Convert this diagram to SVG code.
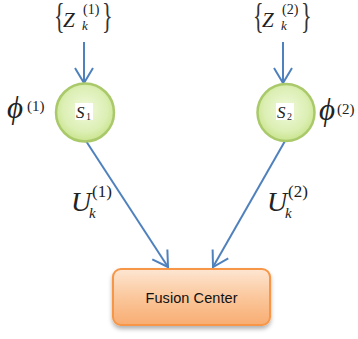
<svg xmlns="http://www.w3.org/2000/svg" width="358" height="339" viewBox="0 0 358 339">
<style>
.m{font-family:"Liberation Serif","Times New Roman",serif;font-style:italic;fill:#222}
.r{font-family:"Liberation Serif","Times New Roman",serif;font-style:normal;fill:#222}
.br{font-family:"Liberation Serif","Times New Roman",serif;font-size:26px;fill:#333}
.edge{stroke:#4f81bd;stroke-width:2;fill:none}
.node{fill:url(#gg);stroke:#a9c96a;stroke-width:2.5}
</style>
<defs>
<radialGradient id="gg" cx="0.5" cy="0.45" r="0.55">
<stop offset="0" stop-color="#f1f9dc"/>
<stop offset="0.7" stop-color="#dcefb4"/>
<stop offset="1" stop-color="#c9e48e"/>
</radialGradient>
<linearGradient id="og" x1="0" y1="0" x2="0" y2="1">
<stop offset="0" stop-color="#fde6d2"/>
<stop offset="0.5" stop-color="#fbc79c"/>
<stop offset="1" stop-color="#f8ad72"/>
</linearGradient>
<filter id="sh" x="-10%" y="-10%" width="120%" height="140%">
<feDropShadow dx="0" dy="3" stdDeviation="2" flood-color="#000" flood-opacity="0.3"/>
</filter>
<marker id="ar" markerUnits="userSpaceOnUse" markerWidth="20" markerHeight="22" viewBox="-17 -11 20 22" refX="0" refY="0" orient="auto">
<path d="M-15,-9 L0,0 L-15,9" fill="none" stroke="#4f81bd" stroke-width="2"/>
</marker>
</defs>

<g id="connectors">
<line class="edge" x1="84" y1="42" x2="84" y2="83" marker-end="url(#ar)"/>
<line class="edge" x1="283" y1="42" x2="283" y2="83" marker-end="url(#ar)"/>
<line class="edge" x1="86" y1="141" x2="168" y2="267" marker-end="url(#ar)"/>
<line class="edge" x1="285" y1="141" x2="213" y2="267" marker-end="url(#ar)"/>
</g>

<g id="z1">
<text class="br" transform="translate(54,28) scale(0.85,1.35)">{</text>
<text class="m" x="63" y="27" font-size="21">Z</text>
<text class="r" x="83" y="14" font-size="14">(1)</text>
<text class="m" x="82" y="30" font-size="13">k</text>
<text class="br" transform="translate(102,28) scale(0.85,1.35)">}</text>
</g>
<g id="z2">
<text class="br" transform="translate(253,28) scale(0.85,1.35)">{</text>
<text class="m" x="262" y="27" font-size="21">Z</text>
<text class="r" x="282" y="14" font-size="14">(2)</text>
<text class="m" x="281" y="30" font-size="13">k</text>
<text class="br" transform="translate(301,28) scale(0.85,1.35)">}</text>
</g>

<g id="s1">
<circle class="node" cx="85" cy="112.5" r="29"/>
<rect x="75" y="103" width="18" height="17" fill="#fff"/>
<text class="m" x="76" y="118" font-size="17">S</text>
<text class="r" x="86" y="120" font-size="10">1</text>
</g>
<g id="s2">
<circle class="node" cx="286" cy="112.5" r="28.5"/>
<rect x="276" y="103" width="18" height="17" fill="#fff"/>
<text class="m" x="277" y="118" font-size="17">S</text>
<text class="r" x="287" y="120" font-size="10">2</text>
</g>

<g id="phi1">
<text class="m" x="7" y="118" font-size="31">ϕ</text>
<text class="r" x="27" y="111" font-size="15">(1)</text>
</g>
<g id="phi2">
<text class="m" x="319" y="120" font-size="31">ϕ</text>
<text class="r" x="337" y="114" font-size="15">(2)</text>
</g>

<g id="u1">
<text class="m" x="71" y="211" font-size="28">U</text>
<text class="r" x="92" y="197" font-size="17">(1)</text>
<text class="m" x="89" y="218" font-size="15">k</text>
</g>
<g id="u2">
<text class="m" x="267" y="211" font-size="28">U</text>
<text class="r" x="288" y="197" font-size="17">(2)</text>
<text class="m" x="285" y="218" font-size="15">k</text>
</g>

<g id="fusion">
<rect x="113" y="269" width="157" height="56" rx="8" fill="url(#og)" stroke="#f79646" stroke-width="2" filter="url(#sh)"/>
<text x="191.5" y="303" font-family="'Liberation Sans',sans-serif" font-size="14.5" text-anchor="middle" fill="#111" textLength="92">Fusion Center</text>
</g>
</svg>
